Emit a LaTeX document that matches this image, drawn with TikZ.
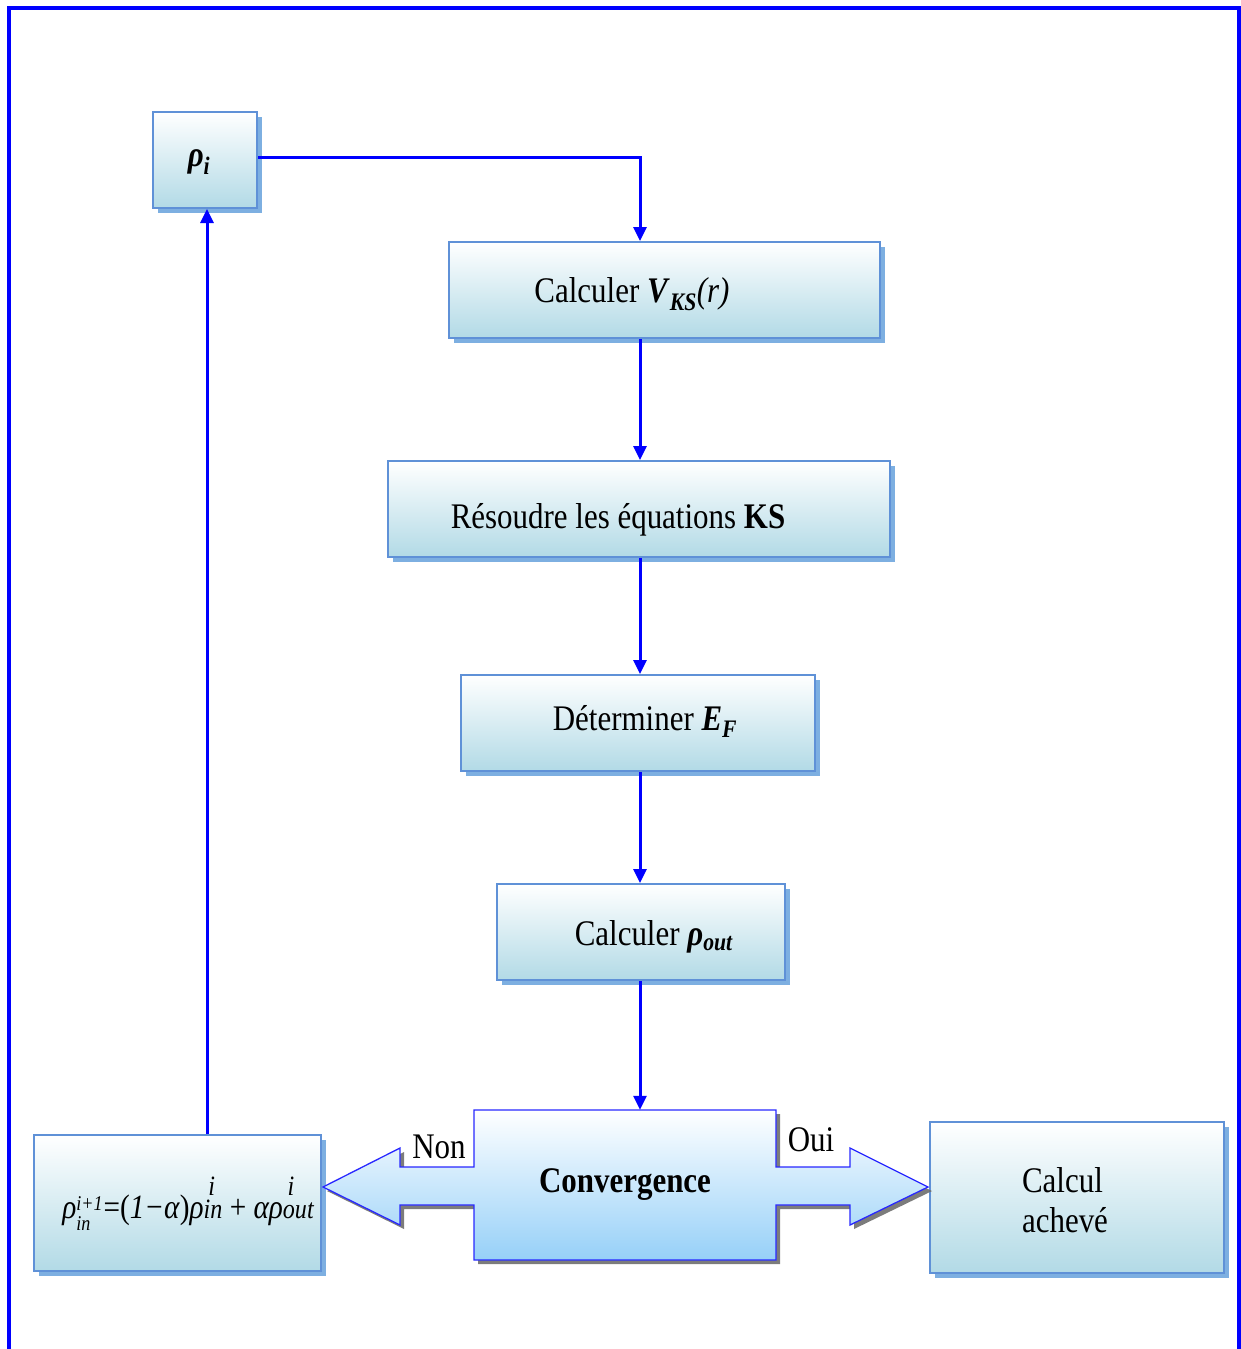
\documentclass[tikz,border=0pt]{standalone}
\usepackage{amsmath}
\usepackage{fontspec}
\setmainfont[FakeStretch=0.86]{Liberation Serif}
\usetikzlibrary{arrows.meta,shadows}
\definecolor{framblue}{RGB}{0,0,255}
\definecolor{boxline}{RGB}{95,145,215}
\definecolor{boxshadow}{RGB}{125,175,225}
\definecolor{boxbottom}{RGB}{178,218,230}
\definecolor{convbottom}{RGB}{150,208,248}
\definecolor{convline}{RGB}{40,40,255}
\definecolor{convshadow}{RGB}{110,110,110}
\tikzset{
  flowbox/.style={draw=boxline, line width=2pt, top color=white, bottom color=boxbottom,
    inner sep=0pt, drop shadow={shadow xshift=5pt, shadow yshift=-5pt, fill=boxshadow, opacity=1}},
  flow/.style={draw=framblue, line width=3pt, -{Triangle[length=14pt,width=13pt]}},
  lbl/.style={font=\fontsize{36}{42}\selectfont, inner sep=0pt, anchor=base},
  formlbl/.style={font=\fontsize{34}{40}\selectfont\itshape, inner sep=0pt, anchor=base},
}
\newcommand{\bi}[1]{\textbf{\textit{#1}}}
\newcommand{\fsA}{\fontsize{21}{24}\selectfont}
\newcommand{\fsB}{\fontsize{28}{32}\selectfont}
% stacked scripts: #1 raise of upper, #2 upper text, #3 raise of lower, #4 lower text
\newcommand{\stk}[4]{\setbox0\hbox{#2}\setbox2\hbox{#4}%
  \ifdim\wd0>\wd2 \dimen0=\wd0 \else \dimen0=\wd2 \fi
  \rlap{\raisebox{#1}{\box0}}\raisebox{#3}{\hbox to\dimen0{\box2\hss}}}
\begin{document}
\begin{tikzpicture}[x=1pt,y=-1pt]
\useasboundingbox (0,0) rectangle (1241,1349);
% frame
\draw[framblue, line width=3.5pt] (9,1360) -- (9,8) -- (1239,8) -- (1239,1360);

% boxes
\node[flowbox, minimum width=104pt, minimum height=96pt] (rhoi) at (205,160) {};
\node[flowbox, minimum width=431pt, minimum height=96pt] (calc) at (664.5,290) {};
\node[flowbox, minimum width=502pt, minimum height=96pt] (res) at (639,509) {};
\node[flowbox, minimum width=354pt, minimum height=96pt] (det) at (638,723) {};
\node[flowbox, minimum width=288pt, minimum height=96pt] (rout) at (641,932) {};
\node[flowbox, minimum width=287pt, minimum height=136pt] (form) at (177.5,1203) {};
\node[flowbox, minimum width=294pt, minimum height=151pt] (fin) at (1077,1197.5) {};

% convergence double arrow
\path[draw=convline, line width=1.3pt, top color=white, bottom color=convbottom,
  drop shadow={shadow xshift=4pt, shadow yshift=-4pt, fill=convshadow, opacity=0.9}]
  (474,1110) -- (776,1110) -- (776,1167) -- (850,1167) -- (850,1148) -- (928,1187)
  -- (850,1225) -- (850,1205) -- (776,1205) -- (776,1260) -- (474,1260) -- (474,1205)
  -- (400,1205) -- (400,1225) -- (323,1187) -- (400,1148) -- (400,1167) -- (474,1167) -- cycle;
\node[inner sep=0pt, minimum width=302pt, minimum height=150pt,
  font=\fontsize{36}{42}\selectfont\bfseries] (conv) at (625,1185) {Convergence};

% texts
\node[lbl] (trhoi) at (199,166) {\bi{ρ}$_{\bi{i}}$};
\node[lbl] (tcalc) at (632,302) {Calculer \bi{V}$_{\bi{KS}}$\textit{(r)}};
\node[lbl] (tres) at (618,528) {Résoudre les équations \textbf{KS}};
\node[lbl] (tdet) at (645,730) {Déterminer \bi{E}$_{\bi{F}}$};
\node[lbl] (trout) at (654,945) {Calculer \bi{ρ}$_{\bi{out}}$};
\node[formlbl] (tform) at (188,1218) {ρ\stk{8pt}{\fsA i+1}{-12pt}{\fsA in}\kern1pt\textup{=(}1−α\textup{)}ρ\stk{23pt}{\fsB\,i}{0pt}{\fsB in}\ \textup{+}\ αρ\stk{23pt}{\fsB\,i}{0pt}{\fsB out}};
\node[font=\fontsize{36}{40}\selectfont, inner sep=0pt, align=left] (tfin) at (1065,1200) {Calcul\\achevé};
\node[lbl] (tnon) at (439,1158) {Non};
\node[lbl] (toui) at (811,1151) {Oui};

% connectors
\coordinate (cx) at (640,0);
\coordinate (lx) at (207,0);
\draw[flow] ([yshift=3pt]rhoi.east) -| (calc.north -| cx);
\draw[flow] (calc.south -| cx) -- (res.north -| cx);
\draw[flow] (res.south -| cx) -- (det.north -| cx);
\draw[flow] (det.south -| cx) -- (rout.north -| cx);
\draw[flow] (rout.south -| cx) -- (conv.north -| cx);
\draw[flow] (form.north -| lx) -- (rhoi.south -| lx);
\end{tikzpicture}
\end{document}
